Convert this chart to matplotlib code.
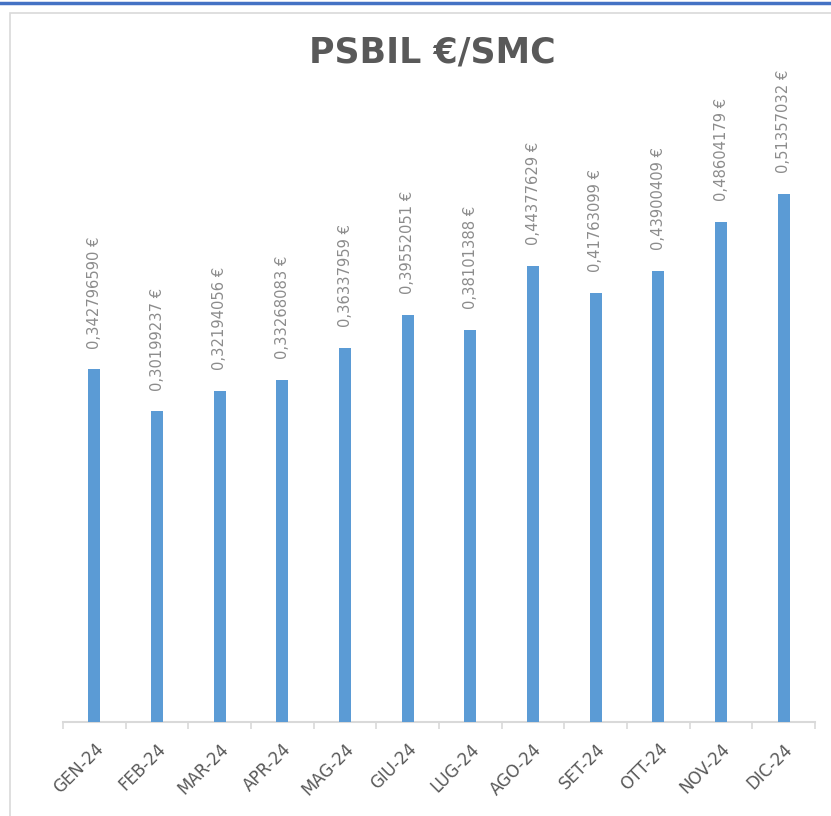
import matplotlib
matplotlib.use("Agg")
import matplotlib.pyplot as plt
from matplotlib.patches import Rectangle
from matplotlib.lines import Line2D

months = ["GEN-24", "FEB-24", "MAR-24", "APR-24", "MAG-24", "GIU-24",
          "LUG-24", "AGO-24", "SET-24", "OTT-24", "NOV-24", "DIC-24"]
values = [0.342796590, 0.30199237, 0.32194056, 0.33268083, 0.36337959, 0.39552051,
          0.38101388, 0.44377629, 0.41763099, 0.43900409, 0.48604179, 0.51357032]
labels = ["0,342796590 €", "0,30199237 €", "0,32194056 €", "0,33268083 €",
          "0,36337959 €", "0,39552051 €", "0,38101388 €", "0,44377629 €",
          "0,41763099 €", "0,43900409 €", "0,48604179 €", "0,51357032 €"]

W, H = 831, 816
fig = plt.figure(figsize=(W / 100, H / 100), dpi=100)
fig.patch.set_facecolor("white")

# top blue rule and chart frame
fig.add_artist(Line2D([0, 1], [1 - 3 / H, 1 - 3 / H], color="#4472C4", lw=2.5,
                      transform=fig.transFigure))
fig.add_artist(Rectangle((10 / W, -0.05), 1.1, 1 - 13 / H + 0.05, transform=fig.transFigure,
                         fill=False, edgecolor="#D9D9D9", lw=1.2))

ax = fig.add_axes([63 / W, 94 / H, (815 - 63) / W, (722 - 105) / H])
x = list(range(len(months)))
ax.bar(x, values, width=0.19, color="#5B9BD5", zorder=3)
ax.set_xlim(-0.5, len(months) - 0.5)
ax.set_ylim(0, 0.6)

for xi, v, lab in zip(x, values, labels):
    ax.annotate(lab, (xi, v), xytext=(0, 15), textcoords="offset points",
                rotation=90, ha="center", va="bottom", fontsize=10.6,
                color="#8C8C8C", family="DejaVu Sans")

for s in ["top", "right", "left"]:
    ax.spines[s].set_visible(False)
ax.spines["bottom"].set_color("#D9D9D9")
ax.spines["bottom"].set_linewidth(1.5)
ax.set_yticks([])
ax.set_xticks([i - 0.5 for i in range(len(months) + 1)], minor=False)
ax.set_xticklabels([])
ax.tick_params(axis="x", which="major", length=5, width=1.2, color="#D9D9D9")
ax.set_xticks(x, minor=True)
ax.set_xticklabels(months, minor=True, rotation=45, ha="right", va="top",
                   rotation_mode="anchor", fontsize=12, color="#595959",
                   family="DejaVu Sans")
ax.tick_params(axis="x", which="minor", length=0, pad=13)

fig.text(432 / W, 1 - 53 / H, "PSBIL €/SMC", ha="center", va="center",
         fontsize=25, fontweight="bold", color="#595959", family="DejaVu Sans")

fig.savefig("out.png", dpi=100)
